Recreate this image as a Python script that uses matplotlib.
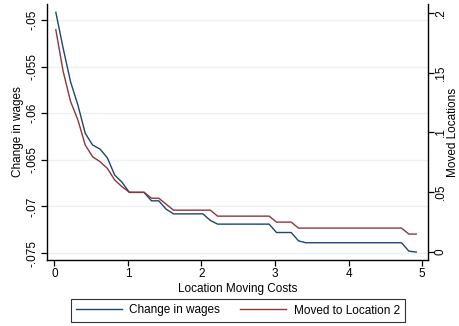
import numpy as np
import matplotlib
matplotlib.use("Agg")
import matplotlib.pyplot as plt

plt.rcParams['font.family'] = ['Liberation Sans', 'DejaVu Sans']

## Values
moving_costs = [0.02, 0.12, 0.22, 0.32, 0.42, 0.52, 0.62, 0.72, 0.82, 0.92,
                1.02, 1.12, 1.22, 1.32, 1.42, 1.52, 1.62, 1.72, 1.82, 1.92,
                2.02, 2.12, 2.22, 2.32, 2.42, 2.52, 2.62, 2.72, 2.82, 2.92,
                3.02, 3.12, 3.22, 3.32, 3.42, 3.52, 3.62, 3.72, 3.82, 3.92,
                4.02, 4.12, 4.22, 4.32, 4.42, 4.52, 4.62, 4.72, 4.82, 4.92]

change_in_wages = [-.04917, -.05304, -.05662, -.05912, -.06216, -.06341, -.06384, -.06478, -.06663, -.06741,
                   -.0685, -.0685, -.0685, -.0694, -.0694, -.0703, -.0708, -.0708, -.0708, -.0708,
                   -.0708, -.0715, -.0719, -.0719, -.0719, -.0719, -.0719, -.0719, -.0719, -.0719,
                   -.0728, -.0728, -.0728, -.0737, -.0739, -.0739, -.0739, -.0739, -.0739, -.0739,
                   -.0739, -.0739, -.0739, -.0739, -.0739, -.0739, -.0739, -.0739, -.0748, -.0749]

moved_location2 = [.186, .151, .126, .1105, .0895, .0797, .0756, .070, .0603, .0546,
                   .050, .050, .050, .045, .045, .040, .035, .035, .035, .035,
                   .035, .035, .030, .030, .030, .030, .030, .030, .030, .030,
                   .025, .025, .025, .020, .020, .020, .020, .020, .020, .020,
                   .020, .020, .020, .020, .020, .020, .020, .020, .015, .015]

xTicks = [0, 1, 2, 3, 4, 5]
leftTicks = [-.075, -.07, -.065, -.06, -.055, -.05]
leftTickLabels = ["-.075", "-.07", "-.065", "-.06", "-.055", "-.05"]
rightTicks = [0, .05, .1, .15, .2]
rightTickLabels = ["0", ".05", ".1", ".15", ".2"]

blue = "#1a476f"
red = "#90353b"
fontSize = 8.5

fig = plt.figure(figsize=(4.59, 3.26), dpi=100)
ax = fig.add_axes([47/459, 66/326, (428-47)/459, (260-4)/326])
ax2 = ax.twinx()

## Gridlines (left axis)
for tick in leftTicks:
    ax.axhline(tick, color="#eaf2f3", linewidth=1.0, zorder=0)

lineWages, = ax.plot(moving_costs, change_in_wages, color=blue, linewidth=1.0, label="Change in wages")
lineMoved, = ax2.plot(moving_costs, moved_location2, color=red, linewidth=1.0, label="Moved to Location 2")

## Axes scaling and ranges
ax.set_xlim(-0.1, 5.08)
ax.set_ylim(-0.07575, -0.04828)
ax2.set_ylim(-0.0067, 0.2075)

ax.set_xticks(xTicks)
ax.set_xticklabels([str(t) for t in xTicks], fontsize=fontSize)
ax.set_yticks(leftTicks)
ax.set_yticklabels(leftTickLabels, fontsize=fontSize, rotation=90, va="center")
ax2.set_yticks(rightTicks)
ax2.set_yticklabels(rightTickLabels, fontsize=fontSize, rotation=90, va="center")

ax.set_xlabel("Location Moving Costs", fontsize=fontSize, labelpad=2)
ax.set_ylabel("Change in wages", fontsize=fontSize, va="center")
ax2.set_ylabel("Moved Locations", fontsize=fontSize, va="center", rotation=90)
ax.yaxis.set_label_coords((18-47)/381, 0.5)
ax2.yaxis.set_label_coords((452.5-47)/381, 0.5)

## Border formatting
for a in [ax, ax2]:
    a.spines["top"].set_visible(False)
    for Border in ["left", "right", "bottom"]:
        a.spines[Border].set_linewidth(1.0)
        a.spines[Border].set_color("black")
    a.tick_params(axis="both", direction="out", length=4, width=0.9, colors="black", pad=2)
ax2.tick_params(axis="y", pad=1)
ax.spines["right"].set_visible(False)
ax2.spines["left"].set_visible(False)
ax2.spines["bottom"].set_visible(False)

leg = fig.legend(handles=[lineWages, lineMoved], loc="center", ncol=2,
                 bbox_to_anchor=(238/459, 15.5/326), fontsize=fontSize,
                 frameon=True, fancybox=False, handlelength=3.9, handletextpad=0.6,
                 columnspacing=1.7, borderpad=0.45, borderaxespad=0)
leg.get_frame().set_edgecolor("black")
leg.get_frame().set_linewidth(0.8)

fig.savefig("out.png", dpi=100)
